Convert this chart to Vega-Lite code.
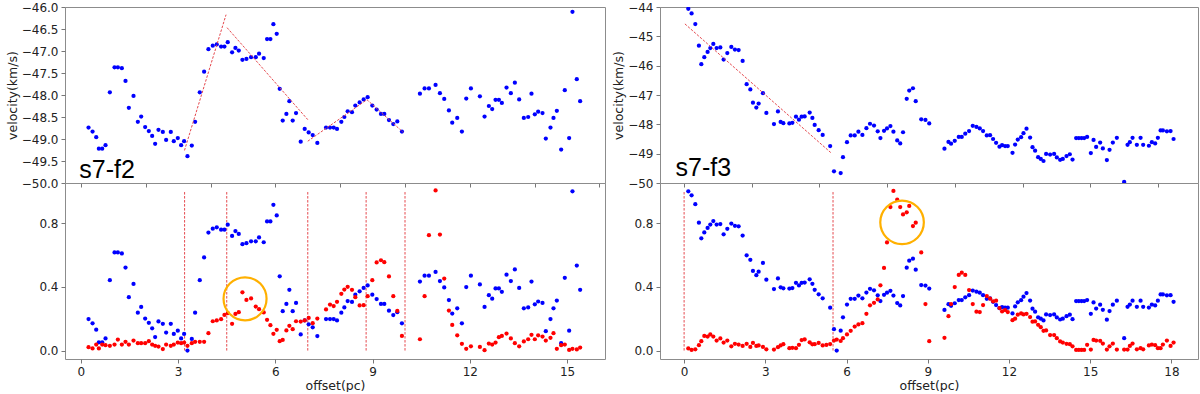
{
  "$schema": "https://vega.github.io/schema/vega-lite/v6.json",
  "background": "white",
  "padding": {"left": 5, "top": 0, "right": 2, "bottom": 0},
  "config": {
    "font": "DejaVu Sans",
    "view": {"stroke": "#8c8c8c", "strokeWidth": 1},
    "axis": {"domain": false, "grid": false, "tickColor": "#777777", "tickSize": 4, "tickWidth": 1,
      "labelFont": "DejaVu Sans", "labelFontSize": 12, "labelColor": "#222222", "labelPadding": 3,
      "titleFont": "DejaVu Sans", "titleFontSize": 12.5, "titleFontWeight": "normal", "titleColor": "#222222", "titlePadding": 2}
  },
  "datasets": {
    "L": [
      {"x":0.236,"v":-48.74,"b":0.198,"r":0.021},{"x":0.360,"v":-48.83,"b":0.171,"r":0.013},{"x":0.473,"v":-48.96,"b":0.131,"r":0.038},{"x":0.555,"v":-49.22,"b":0.052,"r":0.013},{"x":0.658,"v":-49.22,"b":0.052,"r":0.038},{"x":0.760,"v":-49.14,"b":0.076,"r":0.034},{"x":0.894,"v":-47.94,"b":0.442,"r":0.030},{"x":1.038,"v":-47.37,"b":0.616,"r":0.038},{"x":1.141,"v":-47.37,"b":0.616,"r":0.069},{"x":1.264,"v":-47.39,"b":0.610,"r":0.038},
      {"x":1.377,"v":-47.68,"b":0.521,"r":0.055},{"x":1.480,"v":-48.29,"b":0.335,"r":0.038},{"x":1.624,"v":-48.02,"b":0.418,"r":0.063},{"x":1.757,"v":-48.61,"b":0.238,"r":0.046},{"x":1.860,"v":-48.49,"b":0.274,"r":0.046},{"x":1.983,"v":-48.73,"b":0.201,"r":0.046},{"x":2.096,"v":-48.82,"b":0.174,"r":0.059},{"x":2.199,"v":-48.93,"b":0.140,"r":0.038},{"x":2.291,"v":-49.11,"b":0.085,"r":0.030},{"x":2.394,"v":-48.79,"b":0.183,"r":0.025},
      {"x":2.528,"v":-48.84,"b":0.168,"r":0.009},{"x":2.630,"v":-49.02,"b":0.113,"r":0.038},{"x":2.774,"v":-48.84,"b":0.168,"r":0.030},{"x":2.867,"v":-49.05,"b":0.104,"r":0.038},{"x":2.990,"v":-48.98,"b":0.125,"r":0.050},{"x":3.093,"v":-49.14,"b":0.076,"r":0.046},{"x":3.185,"v":-49.05,"b":0.104,"r":0.050},{"x":3.288,"v":-49.39,"b":0.000,"r":0.030},{"x":3.422,"v":-49.15,"b":0.073,"r":0.046},{"x":3.524,"v":-48.61,"b":0.238,"r":0.055},
      {"x":3.668,"v":-47.94,"b":0.442,"r":0.055},{"x":3.802,"v":-47.47,"b":0.585,"r":0.055},{"x":3.935,"v":-46.96,"b":0.741,"r":0.109},{"x":4.069,"v":-46.88,"b":0.765,"r":0.184},{"x":4.192,"v":-46.85,"b":0.774,"r":0.189},{"x":4.326,"v":-46.90,"b":0.759,"r":0.197},{"x":4.429,"v":-46.90,"b":0.759,"r":0.224},{"x":4.531,"v":-46.80,"b":0.790,"r":0.235},{"x":4.665,"v":-47.03,"b":0.720,"r":0.168},{"x":4.768,"v":-46.93,"b":0.750,"r":0.230},
      {"x":4.871,"v":-46.99,"b":0.732,"r":0.241},{"x":4.984,"v":-47.20,"b":0.668,"r":0.366},{"x":5.107,"v":-47.18,"b":0.674,"r":0.318},{"x":5.251,"v":-47.14,"b":0.686,"r":0.327},{"x":5.395,"v":-47.14,"b":0.686,"r":0.276},{"x":5.497,"v":-47.06,"b":0.710,"r":0.260},{"x":5.641,"v":-47.16,"b":0.680,"r":0.239},{"x":5.744,"v":-46.73,"b":0.811,"r":0.193},{"x":5.847,"v":-46.73,"b":0.811,"r":0.159},{"x":5.939,"v":-46.39,"b":0.915,"r":0.105},
      {"x":6.042,"v":-46.61,"b":0.848,"r":0.130},{"x":6.134,"v":-47.86,"b":0.466,"r":0.059},{"x":6.227,"v":-48.58,"b":0.247,"r":0.067},{"x":6.340,"v":-48.43,"b":0.293,"r":0.126},{"x":6.432,"v":-48.14,"b":0.381,"r":0.155},{"x":6.535,"v":-48.58,"b":0.247,"r":0.134},{"x":6.638,"v":-48.41,"b":0.299,"r":0.184},{"x":6.782,"v":-49.06,"b":0.101,"r":0.182},{"x":6.905,"v":-48.77,"b":0.189,"r":0.189},{"x":7.028,"v":-48.85,"b":0.165,"r":0.205},
      {"x":7.152,"v":-48.91,"b":0.146,"r":0.172},{"x":7.295,"v":-49.09,"b":0.091,"r":0.201},{"x":7.563,"v":-48.74,"b":0.198,"r":0.258},{"x":7.686,"v":-48.74,"b":0.198,"r":0.289},{"x":7.799,"v":-48.74,"b":0.198,"r":0.279},{"x":7.902,"v":-48.77,"b":0.189,"r":0.306},{"x":8.035,"v":-48.61,"b":0.238,"r":0.356},{"x":8.128,"v":-48.50,"b":0.271,"r":0.383},{"x":8.231,"v":-48.37,"b":0.311,"r":0.400},{"x":8.364,"v":-48.39,"b":0.305,"r":0.381},
      {"x":8.467,"v":-48.24,"b":0.351,"r":0.335},{"x":8.600,"v":-48.17,"b":0.372,"r":0.283},{"x":8.724,"v":-48.10,"b":0.393,"r":0.285},{"x":8.847,"v":-48.05,"b":0.409,"r":0.341},{"x":8.991,"v":-48.24,"b":0.351,"r":0.442},{"x":9.125,"v":-48.33,"b":0.323,"r":0.553},{"x":9.258,"v":-48.43,"b":0.293,"r":0.567},{"x":9.361,"v":-48.43,"b":0.293,"r":0.555},{"x":9.505,"v":-48.57,"b":0.250,"r":0.465},{"x":9.638,"v":-48.66,"b":0.223,"r":0.341},
      {"x":9.762,"v":-48.60,"b":0.241,"r":0.249},{"x":9.905,"v":-48.83,"b":0.171,"r":0.092},{"x":10.460,"v":-47.97,"b":0.433,"r":0.071},{"x":10.604,"v":-47.85,"b":0.470,"r":0.341},{"x":10.738,"v":-47.85,"b":0.470,"r":0.724},{"x":10.943,"v":-47.77,"b":0.494,"r":1.005},{"x":11.077,"v":-47.96,"b":0.436,"r":0.728},{"x":11.210,"v":-48.09,"b":0.396,"r":0.452},{"x":11.354,"v":-48.35,"b":0.317,"r":0.251},{"x":11.457,"v":-48.63,"b":0.232,"r":0.161},
      {"x":11.611,"v":-48.52,"b":0.265,"r":0.096},{"x":11.755,"v":-48.83,"b":0.171,"r":0.042},{"x":11.889,"v":-48.08,"b":0.399,"r":0.011},{"x":12.033,"v":-47.85,"b":0.470,"r":0.027},{"x":12.310,"v":-48.03,"b":0.415,"r":0.023},{"x":12.454,"v":-48.49,"b":0.274,"r":0.002},{"x":12.587,"v":-48.25,"b":0.348,"r":0.044},{"x":12.690,"v":-48.32,"b":0.326,"r":0.038},{"x":12.793,"v":-48.11,"b":0.390,"r":0.050},{"x":12.896,"v":-48.11,"b":0.390,"r":0.084},
      {"x":12.988,"v":-48.18,"b":0.369,"r":0.092},{"x":13.132,"v":-47.83,"b":0.476,"r":0.107},{"x":13.266,"v":-47.96,"b":0.436,"r":0.076},{"x":13.389,"v":-47.72,"b":0.509,"r":0.046},{"x":13.522,"v":-48.10,"b":0.393,"r":0.027},{"x":13.666,"v":-48.52,"b":0.265,"r":0.057},{"x":13.800,"v":-48.50,"b":0.271,"r":0.071},{"x":13.902,"v":-47.97,"b":0.433,"r":0.099},{"x":14.005,"v":-48.44,"b":0.290,"r":0.071},{"x":14.108,"v":-48.38,"b":0.308,"r":0.096},
      {"x":14.242,"v":-48.41,"b":0.299,"r":0.088},{"x":14.344,"v":-48.99,"b":0.122,"r":0.063},{"x":14.488,"v":-48.74,"b":0.198,"r":0.080},{"x":14.581,"v":-48.52,"b":0.265,"r":0.109},{"x":14.684,"v":-48.36,"b":0.314,"r":0.011},{"x":14.817,"v":-49.24,"b":0.046,"r":0.034},{"x":14.930,"v":-47.89,"b":0.457,"r":0.038},{"x":15.064,"v":-48.98,"b":0.125,"r":0.004},{"x":15.166,"v":-46.11,"b":1.000,"r":0.011},{"x":15.300,"v":-47.64,"b":0.534,"r":0.007},
      {"x":15.403,"v":-48.14,"b":0.381,"r":0.019}
    ],
    "R": [
      {"x":0.155,"v":-44.06,"b":1.000,"r":0.013},{"x":0.277,"v":-44.22,"b":0.975,"r":0.004},{"x":0.414,"v":-44.58,"b":0.919,"r":0.008},{"x":0.547,"v":-45.32,"b":0.803,"r":0.034},{"x":0.636,"v":-45.95,"b":0.705,"r":0.059},{"x":0.746,"v":-45.71,"b":0.742,"r":0.092},{"x":0.868,"v":-45.53,"b":0.770,"r":0.088},{"x":0.968,"v":-45.40,"b":0.791,"r":0.101},{"x":1.079,"v":-45.26,"b":0.813,"r":0.088},{"x":1.201,"v":-45.40,"b":0.791,"r":0.063},
      {"x":1.338,"v":-45.38,"b":0.794,"r":0.076},{"x":1.460,"v":-45.79,"b":0.730,"r":0.050},{"x":1.596,"v":-45.57,"b":0.764,"r":0.063},{"x":1.744,"v":-45.36,"b":0.797,"r":0.027},{"x":1.877,"v":-45.45,"b":0.783,"r":0.042},{"x":2.014,"v":-45.47,"b":0.780,"r":0.038},{"x":2.162,"v":-45.84,"b":0.722,"r":0.029},{"x":2.310,"v":-46.63,"b":0.598,"r":0.042},{"x":2.446,"v":-46.81,"b":0.570,"r":0.023},{"x":2.543,"v":-47.26,"b":0.500,"r":0.048},
      {"x":2.668,"v":-47.43,"b":0.473,"r":0.029},{"x":2.753,"v":-47.29,"b":0.495,"r":0.032},{"x":2.912,"v":-46.94,"b":0.550,"r":0.023},{"x":3.038,"v":-47.61,"b":0.445,"r":0.008},{"x":3.319,"v":-47.99,"b":0.386,"r":0.006},{"x":3.466,"v":-47.56,"b":0.453,"r":0.021},{"x":3.566,"v":-47.92,"b":0.397,"r":0.032},{"x":3.666,"v":-47.96,"b":0.391,"r":0.040},{"x":3.888,"v":-47.97,"b":0.389,"r":0.015},{"x":3.999,"v":-47.95,"b":0.392,"r":0.017},
      {"x":4.132,"v":-47.74,"b":0.425,"r":0.015},{"x":4.242,"v":-47.84,"b":0.409,"r":0.036},{"x":4.342,"v":-47.74,"b":0.425,"r":0.066},{"x":4.453,"v":-47.73,"b":0.427,"r":0.070},{"x":4.638,"v":-47.60,"b":0.447,"r":0.052},{"x":4.738,"v":-47.78,"b":0.419,"r":0.039},{"x":4.823,"v":-48.02,"b":0.381,"r":0.040},{"x":4.970,"v":-48.20,"b":0.353,"r":0.048},{"x":5.118,"v":-48.36,"b":0.328,"r":0.032},{"x":5.395,"v":-48.74,"b":0.269,"r":0.041},
      {"x":5.536,"v":-49.60,"b":0.134,"r":0.063},{"x":5.636,"v":-50.46,"b":0.000,"r":0.069},{"x":5.783,"v":-49.66,"b":0.125,"r":0.060},{"x":5.868,"v":-49.12,"b":0.209,"r":0.078},{"x":6.016,"v":-48.61,"b":0.289,"r":0.101},{"x":6.153,"v":-48.38,"b":0.325,"r":0.124},{"x":6.301,"v":-48.38,"b":0.325,"r":0.151},{"x":6.438,"v":-48.25,"b":0.345,"r":0.164},{"x":6.585,"v":-48.36,"b":0.328,"r":0.172},{"x":6.733,"v":-48.13,"b":0.364,"r":0.231},
      {"x":6.866,"v":-47.98,"b":0.388,"r":0.284},{"x":7.014,"v":-48.04,"b":0.378,"r":0.300},{"x":7.151,"v":-48.24,"b":0.347,"r":0.321},{"x":7.251,"v":-48.47,"b":0.311,"r":0.410},{"x":7.384,"v":-48.22,"b":0.350,"r":0.519},{"x":7.494,"v":-48.14,"b":0.363,"r":0.679},{"x":7.620,"v":-48.06,"b":0.375,"r":0.901},{"x":7.731,"v":-48.25,"b":0.345,"r":1.002},{"x":7.871,"v":-48.55,"b":0.298,"r":0.947},{"x":7.982,"v":-48.65,"b":0.283,"r":0.901},
      {"x":8.086,"v":-48.27,"b":0.342,"r":0.855},{"x":8.222,"v":-47.13,"b":0.520,"r":0.868},{"x":8.315,"v":-46.85,"b":0.564,"r":0.908},{"x":8.452,"v":-46.77,"b":0.577,"r":0.782},{"x":8.555,"v":-47.21,"b":0.508,"r":0.803},{"x":8.758,"v":-47.83,"b":0.411,"r":0.616},{"x":8.914,"v":-47.85,"b":0.408,"r":0.292},{"x":9.054,"v":-47.97,"b":0.389,"r":0.059},{"x":9.616,"v":-48.83,"b":0.255,"r":0.080},{"x":9.764,"v":-48.60,"b":0.291,"r":0.216},
      {"x":9.860,"v":-48.66,"b":0.281,"r":0.292},{"x":9.996,"v":-48.56,"b":0.297,"r":0.399},{"x":10.144,"v":-48.43,"b":0.317,"r":0.475},{"x":10.255,"v":-48.43,"b":0.317,"r":0.489},{"x":10.384,"v":-48.32,"b":0.334,"r":0.475},{"x":10.525,"v":-48.23,"b":0.348,"r":0.380},{"x":10.661,"v":-48.05,"b":0.377,"r":0.292},{"x":10.798,"v":-48.09,"b":0.370,"r":0.244},{"x":10.920,"v":-48.14,"b":0.363,"r":0.242},{"x":11.042,"v":-48.23,"b":0.348,"r":0.286},
      {"x":11.179,"v":-48.38,"b":0.325,"r":0.342},{"x":11.301,"v":-48.37,"b":0.327,"r":0.326},{"x":11.412,"v":-48.50,"b":0.306,"r":0.309},{"x":11.523,"v":-48.63,"b":0.286,"r":0.313},{"x":11.648,"v":-48.76,"b":0.266,"r":0.267},{"x":11.744,"v":-48.71,"b":0.273,"r":0.246},{"x":11.855,"v":-48.74,"b":0.269,"r":0.254},{"x":11.955,"v":-48.74,"b":0.269,"r":0.242},{"x":12.129,"v":-48.97,"b":0.233,"r":0.191},{"x":12.225,"v":-48.69,"b":0.277,"r":0.200},
      {"x":12.324,"v":-48.52,"b":0.303,"r":0.225},{"x":12.447,"v":-48.44,"b":0.316,"r":0.233},{"x":12.535,"v":-48.30,"b":0.338,"r":0.227},{"x":12.646,"v":-48.15,"b":0.361,"r":0.231},{"x":12.779,"v":-48.45,"b":0.314,"r":0.210},{"x":12.868,"v":-48.78,"b":0.263,"r":0.181},{"x":12.964,"v":-48.90,"b":0.244,"r":0.183},{"x":13.075,"v":-49.12,"b":0.209,"r":0.162},{"x":13.174,"v":-49.18,"b":0.200,"r":0.147},{"x":13.274,"v":-49.25,"b":0.189,"r":0.124},
      {"x":13.370,"v":-49.01,"b":0.227,"r":0.126},{"x":13.518,"v":-49.03,"b":0.223,"r":0.097},{"x":13.666,"v":-49.01,"b":0.227,"r":0.097},{"x":13.766,"v":-49.13,"b":0.208,"r":0.078},{"x":13.888,"v":-49.21,"b":0.195,"r":0.057},{"x":13.987,"v":-49.18,"b":0.200,"r":0.050},{"x":14.124,"v":-49.08,"b":0.216,"r":0.042},{"x":14.246,"v":-49.02,"b":0.225,"r":0.040},{"x":14.346,"v":-49.20,"b":0.197,"r":0.027},{"x":14.479,"v":-48.47,"b":0.311,"r":0.004},
      {"x":14.579,"v":-48.47,"b":0.311,"r":0.004},{"x":14.679,"v":-48.47,"b":0.311,"r":0.004},{"x":14.775,"v":-48.47,"b":0.311,"r":0.004},{"x":14.885,"v":-48.43,"b":0.317,"r":0.036},{"x":15.022,"v":-48.98,"b":0.231,"r":0.006},{"x":15.122,"v":-48.53,"b":0.302,"r":0.067},{"x":15.218,"v":-48.77,"b":0.264,"r":0.063},{"x":15.366,"v":-48.62,"b":0.288,"r":0.061},{"x":15.466,"v":-48.82,"b":0.256,"r":0.044},{"x":15.614,"v":-49.22,"b":0.194,"r":0.006},
      {"x":15.713,"v":-48.87,"b":0.248,"r":0.027},{"x":15.835,"v":-48.62,"b":0.288,"r":0.044},{"x":15.983,"v":-48.46,"b":0.313,"r":0.006},{"x":16.253,"v":-49.96,"b":0.078,"r":0.006},{"x":16.378,"v":-48.70,"b":0.275,"r":0.006},{"x":16.463,"v":-48.61,"b":0.289,"r":0.029},{"x":16.563,"v":-48.46,"b":0.313,"r":0.044},{"x":16.722,"v":-48.70,"b":0.275,"r":0.008},{"x":16.859,"v":-48.46,"b":0.313,"r":0.015},{"x":16.955,"v":-48.70,"b":0.275,"r":0.008},
      {"x":17.166,"v":-48.73,"b":0.270,"r":0.032},{"x":17.276,"v":-48.61,"b":0.289,"r":0.038},{"x":17.398,"v":-48.65,"b":0.283,"r":0.034},{"x":17.498,"v":-48.46,"b":0.313,"r":0.015},{"x":17.598,"v":-48.21,"b":0.352,"r":0.015},{"x":17.683,"v":-48.21,"b":0.352,"r":0.038},{"x":17.831,"v":-48.24,"b":0.347,"r":0.063},{"x":17.967,"v":-48.23,"b":0.348,"r":0.029},{"x":18.078,"v":-48.50,"b":0.306,"r":0.050}
    ],
    "Rx": [{"x":5.255,"r":0.035}],
    "fitL": [
      {"seg":1,"x":3.196,"v":-49.26},{"seg":1,"x":4.479,"v":-46.175},
      {"seg":2,"x":4.51,"v":-46.47},{"seg":2,"x":7.0,"v":-48.56},
      {"seg":3,"x":7.0,"v":-49.05},{"seg":3,"x":8.826,"v":-48.107},{"seg":3,"x":9.947,"v":-48.85}
    ],
    "fitR": [{"seg":1,"x":0.03,"v":-44.576},{"seg":1,"x":5.45,"v":-48.99}],
    "cutsL": [{"x":3.2},{"x":4.5},{"x":7.0},{"x":8.8},{"x":10.0}],
    "cutsR": [{"x":0.0},{"x":5.5}],
    "circL": [{"x":5.065,"y":0.325}],
    "circR": [{"x":8.05,"y":0.805}],
    "labL": [{"x":-0.05,"v":-49.886,"t":"s7-f2"}],
    "labR": [{"x":-0.314,"v":-49.777,"t":"s7-f3"}]
  },
  "columns": 2,
  "bounds": "flush",
  "spacing": {"row": 0, "column": 55},
  "concat": [
    {
      "width": 540, "height": 176,
      "encoding": {
        "x": {"field": "x", "type": "quantitative", "scale": {"domain": [-0.49, 16.17], "nice": false, "zero": false},
              "axis": {"values": [0,2,4,6,8,10,12,14,16], "labels": false, "title": null}},
        "y": {"field": "v", "type": "quantitative", "scale": {"domain": [-50, -46], "nice": false, "zero": false},
              "axis": {"values": [-50,-49.5,-49,-48.5,-48,-47.5,-47,-46.5,-46], "format": ".1f", "title": "velocity(km/s)"}}
      },
      "layer": [
        {"data": {"name": "L"}, "mark": {"type": "point", "filled": true, "size": 18, "color": "#0000ff", "opacity": 1, "clip": true}},
        {"data": {"name": "fitL"}, "mark": {"type": "line", "color": "#e5484d", "strokeWidth": 1, "strokeDash": [2.5, 1.5]}, "encoding": {"detail": {"field": "seg"}}},
        {"data": {"name": "labL"}, "mark": {"type": "text", "font": "Liberation Sans", "fontSize": 25, "align": "left", "baseline": "alphabetic", "color": "#000000"}, "encoding": {"text": {"field": "t"}}}
      ]
    },
    {
      "width": 538, "height": 176,
      "encoding": {
        "x": {"field": "x", "type": "quantitative", "scale": {"domain": [-0.89, 18.98], "nice": false, "zero": false},
              "axis": {"values": [0,2.5,5,7.5,10,12.5,15,17.5], "labels": false, "title": null}},
        "y": {"field": "v", "type": "quantitative", "scale": {"domain": [-50, -44], "nice": false, "zero": false},
              "axis": {"values": [-50,-49,-48,-47,-46,-45,-44], "format": "d", "title": "velocity(km/s)"}}
      },
      "layer": [
        {"data": {"name": "R"}, "mark": {"type": "point", "filled": true, "size": 18, "color": "#0000ff", "opacity": 1, "clip": true}},
        {"data": {"name": "fitR"}, "mark": {"type": "line", "color": "#e5484d", "strokeWidth": 1, "strokeDash": [2.5, 1.5]}, "encoding": {"detail": {"field": "seg"}}},
        {"data": {"name": "labR"}, "mark": {"type": "text", "font": "Liberation Sans", "fontSize": 25, "align": "left", "baseline": "alphabetic", "color": "#000000"}, "encoding": {"text": {"field": "t"}}}
      ]
    },
    {
      "width": 540, "height": 176,
      "encoding": {
        "x": {"field": "x", "type": "quantitative", "scale": {"domain": [-0.49, 16.17], "nice": false, "zero": false},
              "axis": {"values": [0,3,6,9,12,15], "title": "offset(pc)", "labelFlush": false}}
      },
      "layer": [
        {"data": {"name": "cutsL"}, "mark": {"type": "rule", "color": "#e5484d", "strokeWidth": 1, "strokeDash": [2.5, 1.5]},
         "encoding": {"y": {"datum": 0, "type": "quantitative", "scale": {"domain": [-0.053, 1.052], "nice": false, "zero": false}, "axis": {"values": [0,0.4,0.8], "format": ".1f", "title": null}}, "y2": {"datum": 1.0}}},
        {"data": {"name": "L"}, "mark": {"type": "point", "filled": true, "size": 18, "color": "#0000ff", "opacity": 1},
         "encoding": {"y": {"field": "b", "type": "quantitative", "scale": {"domain": [-0.053, 1.052], "nice": false, "zero": false}, "axis": {"values": [0,0.4,0.8], "format": ".1f", "title": null}}}},
        {"data": {"name": "L"}, "mark": {"type": "point", "filled": true, "size": 18, "color": "#ff0000", "opacity": 1},
         "encoding": {"y": {"field": "r", "type": "quantitative", "scale": {"domain": [-0.053, 1.052], "nice": false, "zero": false}, "axis": {"values": [0,0.4,0.8], "format": ".1f", "title": null}}}},
        {"data": {"name": "circL"}, "mark": {"type": "point", "shape": "circle", "filled": false, "size": 1850, "stroke": "#ffb000", "strokeWidth": 2.2, "opacity": 1},
         "encoding": {"y": {"field": "y", "type": "quantitative", "scale": {"domain": [-0.053, 1.052], "nice": false, "zero": false}, "axis": {"values": [0,0.4,0.8], "format": ".1f", "title": null}}}}
      ]
    },
    {
      "width": 538, "height": 176,
      "encoding": {
        "x": {"field": "x", "type": "quantitative", "scale": {"domain": [-0.89, 18.98], "nice": false, "zero": false},
              "axis": {"values": [0,3,6,9,12,15,18], "title": "offset(pc)", "labelFlush": false}}
      },
      "layer": [
        {"data": {"name": "cutsR"}, "mark": {"type": "rule", "color": "#e5484d", "strokeWidth": 1, "strokeDash": [2.5, 1.5]},
         "encoding": {"y": {"datum": 0, "type": "quantitative", "scale": {"domain": [-0.053, 1.052], "nice": false, "zero": false}, "axis": {"values": [0,0.4,0.8], "format": ".1f", "title": null}}, "y2": {"datum": 1.0}}},
        {"data": {"name": "R"}, "mark": {"type": "point", "filled": true, "size": 18, "color": "#0000ff", "opacity": 1},
         "encoding": {"y": {"field": "b", "type": "quantitative", "scale": {"domain": [-0.053, 1.052], "nice": false, "zero": false}, "axis": {"values": [0,0.4,0.8], "format": ".1f", "title": null}}}},
        {"data": {"name": "R"}, "mark": {"type": "point", "filled": true, "size": 18, "color": "#ff0000", "opacity": 1},
         "encoding": {"y": {"field": "r", "type": "quantitative", "scale": {"domain": [-0.053, 1.052], "nice": false, "zero": false}, "axis": {"values": [0,0.4,0.8], "format": ".1f", "title": null}}}},
        {"data": {"name": "Rx"}, "mark": {"type": "point", "filled": true, "size": 18, "color": "#ff0000", "opacity": 1},
         "encoding": {"y": {"field": "r", "type": "quantitative", "scale": {"domain": [-0.053, 1.052], "nice": false, "zero": false}, "axis": {"values": [0,0.4,0.8], "format": ".1f", "title": null}}}},
        {"data": {"name": "circR"}, "mark": {"type": "point", "shape": "circle", "filled": false, "size": 1900, "stroke": "#ffb000", "strokeWidth": 2.2, "opacity": 1},
         "encoding": {"y": {"field": "y", "type": "quantitative", "scale": {"domain": [-0.053, 1.052], "nice": false, "zero": false}, "axis": {"values": [0,0.4,0.8], "format": ".1f", "title": null}}}}
      ]
    }
  ]
}
